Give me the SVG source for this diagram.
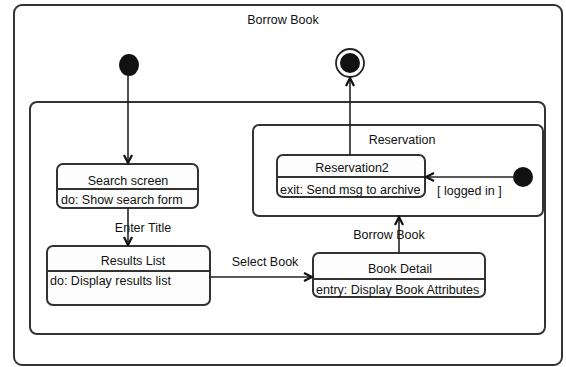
<svg xmlns="http://www.w3.org/2000/svg" width="566" height="367" viewBox="0 0 566 367">
<style>
text{font-family:"Liberation Sans",Arial,sans-serif;font-size:12.5px;fill:#111}
.c{text-anchor:middle}
.frame{fill:none;stroke:#333;stroke-width:2}
.box{fill:#fdfdfd;stroke:#333;stroke-width:2}
.div{stroke:#333;stroke-width:2}
.edge{fill:none;stroke:#222;stroke-width:1.6;marker-end:url(#arr)}
</style>
<defs>
<marker id="arr" markerUnits="userSpaceOnUse" markerWidth="12" markerHeight="12" viewBox="-10 -6 12 12" refX="0" refY="0" orient="auto">
<path d="M-8,-4 L0,0 L-8,4" fill="none" stroke="#111" stroke-width="2.2"/>
</marker>
</defs>
<rect width="566" height="367" fill="#fff"/>
<g id="borrow-book">
<rect class="frame" x="14" y="5" width="548" height="360" rx="8"/>
<text class="c" x="283" y="24">Borrow Book</text>
</g>
<g id="initial">
<ellipse cx="129" cy="65" rx="10" ry="11" fill="#111"/>
</g>
<g id="final">
<circle cx="350" cy="63" r="14" fill="none" stroke="#222" stroke-width="1.8"/>
<circle cx="350" cy="63" r="10" fill="#111"/>
</g>
<g id="composite">
<rect class="frame" x="30" y="102" width="515" height="232" rx="7"/>
</g>
<g id="reservation">
<rect class="frame" x="253" y="125" width="290" height="91" rx="6"/>
<text class="c" x="402" y="144">Reservation</text>
</g>
<g id="reservation-initial">
<circle cx="523" cy="177" r="10" fill="#111"/>
</g>
<g id="reservation2">
<rect class="box" x="277" y="155" width="148" height="42" rx="6"/>
<line class="div" x1="277" y1="177" x2="425" y2="177"/>
<text class="c" x="352" y="172">Reservation2</text>
<text x="280" y="194">exit: Send msg to archive</text>
</g>
<g id="search-screen">
<rect class="box" x="57" y="164" width="141" height="44" rx="6"/>
<line class="div" x1="57" y1="189" x2="199" y2="189"/>
<text class="c" x="128" y="185">Search screen</text>
<text x="61" y="204">do: Show search form</text>
</g>
<g id="results-list">
<rect class="box" x="47" y="246" width="163" height="59" rx="6"/>
<line class="div" x1="47" y1="271" x2="210" y2="271"/>
<text class="c" x="133" y="265">Results List</text>
<text x="50" y="285">do: Display results list</text>
</g>
<g id="book-detail">
<rect class="box" x="313" y="253" width="172" height="44" rx="6"/>
<line class="div" x1="313" y1="279" x2="485" y2="279"/>
<text class="c" x="400" y="273">Book Detail</text>
<text x="316" y="294">entry: Display Book Attributes</text>
</g>
<g id="connectors">
<text class="c" x="143" y="232">Enter Title</text>
<text class="c" x="265" y="266">Select Book</text>
<text class="c" x="389" y="239">Borrow Book</text>
<text x="437" y="195">[ logged in ]</text>
<path class="edge" d="M128,76 L128,163"/>
<path class="edge" d="M128,208 L128,245"/>
<path class="edge" d="M210,277 L312,277"/>
<path class="edge" d="M399,253 L399,217"/>
<path class="edge" d="M350,155 L350,78"/>
<path class="edge" d="M513,177 L426,177"/>
</g>
</svg>
